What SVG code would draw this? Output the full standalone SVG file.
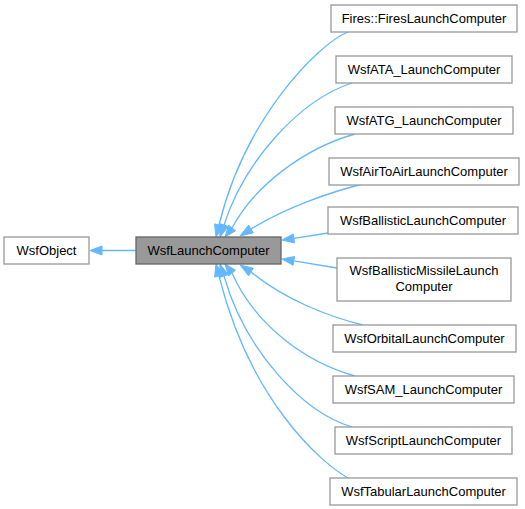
<svg xmlns="http://www.w3.org/2000/svg" width="525" height="509" viewBox="0 0 525 509">
<style>
.node rect{fill:#ffffff;stroke:#999999;stroke-width:1.3}
.cur rect{fill:#999999;stroke:#666666;stroke-width:1.3}
text{font-family:"Liberation Sans",Arial,sans-serif;font-size:13px;fill:#000000;text-anchor:middle}
.edges path{fill:none;stroke:#63b8ff;stroke-width:1.3}
.edges polygon{fill:#63b8ff;stroke:#63b8ff;stroke-width:1}
</style>
<rect width="525" height="509" fill="#ffffff"/>
<g class="edges" id="edges">
<path d="M136,250.5 L102,250.5"/>
<polygon points="102,246 90,250.5 102,255"/>
<path d="M348,32 C318,44 245,118 219,225"/>
<polygon points="223.4,226.1 216,237 214.6,223.9"/>
<path d="M352,83 C300,100 245,160 224,225"/>
<polygon points="228.2,226.4 220,237 219.7,223.6"/>
<path d="M355,134 C305,148 255,185 232,228"/>
<polygon points="235.5,230.8 225,237 228.5,225.2"/>
<path d="M363,184 C330,192 285,208 251,229"/>
<polygon points="253.4,232.8 240,236 248.6,225.2"/>
<path d="M328,233 L294,238.4"/>
<polygon points="294.5,242.9 282,240 293.3,233.9"/>
<path d="M337,268 L293.8,260.9"/>
<polygon points="294.5,256.5 282,259 293.1,265.3"/>
<path d="M363,325 C330,317 285,300 251,272"/>
<polygon points="248.6,275.8 240,265 253.4,268.2"/>
<path d="M355,376 C305,362 255,325 232,273"/>
<polygon points="228.5,275.8 225,264 235.5,270.2"/>
<path d="M352,427 C302,412 245,350 224,276"/>
<polygon points="219.7,277.4 220,264 228.2,274.6"/>
<path d="M348,478 C320,462 250,400 219,276"/>
<polygon points="214.6,277.1 216,264 223.4,274.9"/>
</g>
<g class="node" id="WsfObject"><rect x="4" y="237" width="85" height="27"/><text x="46.5" y="255">WsfObject</text></g>
<g class="cur" id="WsfLaunchComputer"><rect x="136" y="237" width="145" height="27"/><text x="208.5" y="255">WsfLaunchComputer</text></g>
<g class="node" id="FiresLaunchComputer"><rect x="331" y="5" width="186" height="27"/><text x="424" y="23">Fires::FiresLaunchComputer</text></g>
<g class="node" id="WsfATA_LaunchComputer"><rect x="336" y="56" width="176" height="27"/><text x="424" y="74">WsfATA_LaunchComputer</text></g>
<g class="node" id="WsfATG_LaunchComputer"><rect x="335" y="107" width="178" height="27"/><text x="424" y="125">WsfATG_LaunchComputer</text></g>
<g class="node" id="WsfAirToAirLaunchComputer"><rect x="329" y="158" width="190" height="27"/><text x="424" y="176">WsfAirToAirLaunchComputer</text></g>
<g class="node" id="WsfBallisticLaunchComputer"><rect x="328" y="207" width="190" height="27"/><text x="423" y="225">WsfBallisticLaunchComputer</text></g>
<g class="node" id="WsfBallisticMissileLaunchComputer"><rect x="337" y="258" width="174" height="43"/><text x="424" y="275">WsfBallisticMissileLaunch</text><text x="424" y="291">Computer</text></g>
<g class="node" id="WsfOrbitalLaunchComputer"><rect x="333" y="325" width="183" height="27"/><text x="424.5" y="343">WsfOrbitalLaunchComputer</text></g>
<g class="node" id="WsfSAM_LaunchComputer"><rect x="333" y="376" width="181" height="27"/><text x="423.5" y="394">WsfSAM_LaunchComputer</text></g>
<g class="node" id="WsfScriptLaunchComputer"><rect x="335" y="427" width="177" height="27"/><text x="423.5" y="445">WsfScriptLaunchComputer</text></g>
<g class="node" id="WsfTabularLaunchComputer"><rect x="330" y="478" width="187" height="27"/><text x="423.5" y="496">WsfTabularLaunchComputer</text></g>
</svg>
